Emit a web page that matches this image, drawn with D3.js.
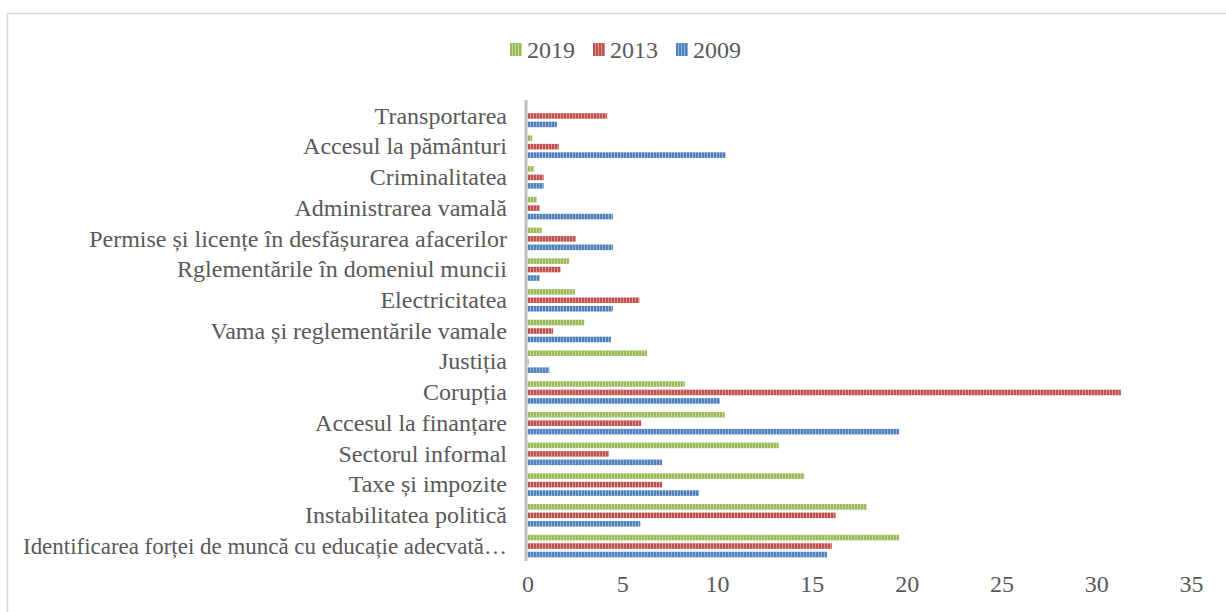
<!DOCTYPE html>
<html lang="ro">
<head>
<meta charset="utf-8">
<script src="https://d3js.org/d3.v7.min.js"></script>
<style>
body { margin: 0; background: #fff; }
svg text { font-family: "Liberation Serif", "Times New Roman", serif; fill: #595959; }
</style>
</head>
<body>
<script>
// categories from top to bottom
var categories = [
  "Transportarea",
  "Accesul la pământuri",
  "Criminalitatea",
  "Administrarea vamală",
  "Permise și licențe în desfășurarea afacerilor",
  "Rglementările în domeniul muncii",
  "Electricitatea",
  "Vama și reglementările vamale",
  "Justiția",
  "Corupția",
  "Accesul la finanțare",
  "Sectorul informal",
  "Taxe și impozite",
  "Instabilitatea politică",
  "Identificarea forței de muncă cu educație adecvată…"
];
var series = ["2019", "2013", "2009"];
var values2019 = [0, 0.25, 0.35, 0.5, 0.75, 2.2, 2.5, 3.0, 6.3, 8.3, 10.4, 13.25, 14.6, 17.9, 19.6];
var values2013 = [4.2, 1.65, 0.85, 0.65, 2.55, 1.75, 5.9, 1.35, 0.05, 31.3, 6.0, 4.3, 7.1, 16.25, 16.05];
var values2009 = [1.55, 10.45, 0.85, 4.5, 4.5, 0.65, 4.5, 4.4, 1.15, 10.15, 19.6, 7.1, 9.05, 5.95, 15.8];
var xTicks = [0, 5, 10, 15, 20, 25, 30, 35];

var colors = { "2019": "#9bbb59", "2013": "#c0504d", "2009": "#4f81bd" };
var light = { "2019": "#c3d69b", "2013": "#d99694", "2009": "#95b3d7" };
var valuesBySeries = { "2019": values2019, "2013": values2013, "2009": values2009 };

var width = 1226, height = 612;
var svg = d3.select("body").append("svg")
  .attr("width", width)
  .attr("height", height);

// chart border
svg.append("rect")
  .attr("x", 7.5).attr("y", 13.5)
  .attr("width", 1240).attr("height", 620)
  .attr("fill", "none")
  .attr("stroke", "#d9d9d9")
  .attr("stroke-width", 1.5);

// vertical stripe patterns
var defs = svg.append("defs");
series.forEach(function(s) {
  var p = defs.append("pattern")
    .attr("id", "pat" + s)
    .attr("patternUnits", "userSpaceOnUse")
    .attr("width", 3).attr("height", 10);
  p.append("rect").attr("width", 3).attr("height", 10).attr("fill", light[s]);
  p.append("rect").attr("width", 2).attr("height", 10).attr("fill", colors[s]);
});

var x = d3.scaleLinear().domain([0, 35]).range([527.5, 1191]);
var y0 = d3.scaleBand().domain(categories).range([100.6, 561.4]).paddingInner(0.267).paddingOuter(0.133);
var y1 = d3.scaleBand().domain(series).range([0, y0.bandwidth()]).paddingInner(0.34);

var groups = svg.selectAll("g.cat")
  .data(categories)
  .enter()
  .append("g")
  .attr("class", "cat")
  .attr("transform", function(d) { return "translate(0," + y0(d) + ")"; });

groups.selectAll("rect")
  .data(function(d, i) {
    return series.map(function(s) { return { s: s, v: valuesBySeries[s][i] }; });
  })
  .enter()
  .append("rect")
  .attr("x", x(0))
  .attr("y", function(d) { return y1(d.s); })
  .attr("width", function(d) { return x(d.v) - x(0); })
  .attr("height", y1.bandwidth())
  .attr("fill", function(d) { return "url(#pat" + d.s + ")"; });

// category labels
var yAxis = d3.axisLeft(y0).tickSize(0).tickPadding(0);
var yg = svg.append("g")
  .attr("transform", "translate(507,0)")
  .call(yAxis);
yg.select(".domain").remove();
yg.selectAll("text")
  .attr("font-size", 24)
  .attr("font-family", null)
  .attr("fill", "#595959")
  .each(function(d) {
    // the long label is squeezed a little, as in the original
    if (d === categories[categories.length - 1]) {
      d3.select(this).attr("textLength", 484).attr("lengthAdjust", "spacingAndGlyphs");
    }
  });

// axis line
svg.append("line")
  .attr("x1", x(0) - 1.5).attr("x2", x(0) - 1.5)
  .attr("y1", 100).attr("y2", 561)
  .attr("stroke", "#bfbfbf")
  .attr("stroke-width", 3);

// x tick labels
var xAxis = d3.axisBottom(x).tickValues(xTicks).tickSize(0).tickPadding(0);
var xg = svg.append("g")
  .attr("transform", "translate(0,575)")
  .call(xAxis);
xg.select(".domain").remove();
xg.selectAll("text")
  .attr("font-size", 24)
  .attr("font-family", null)
  .attr("fill", "#595959");

// legend
var legendX = [510, 593, 676];
var legend = svg.selectAll("g.leg")
  .data(series)
  .enter()
  .append("g")
  .attr("class", "leg")
  .attr("transform", function(d, i) { return "translate(" + legendX[i] + ",43)"; });
legend.append("rect")
  .attr("width", 12).attr("height", 13)
  .attr("fill", function(d) { return "url(#pat" + d + ")"; });
legend.append("text")
  .attr("x", 17).attr("y", 15)
  .attr("font-size", 24)
  .text(function(d) { return d; });
</script>
</body>
</html>
